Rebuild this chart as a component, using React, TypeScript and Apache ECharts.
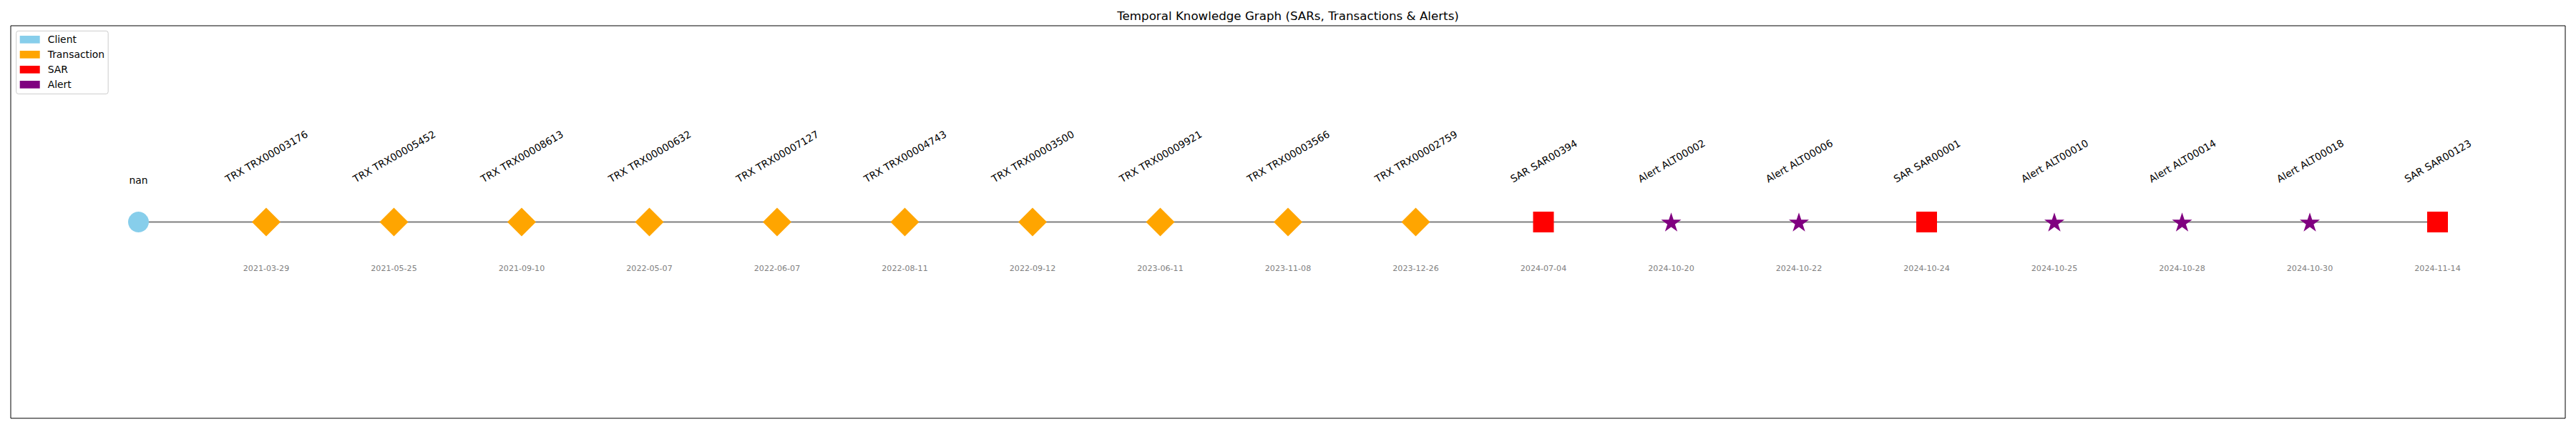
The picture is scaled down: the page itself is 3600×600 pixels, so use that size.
import React, { useEffect, useRef } from "react";
import * as echarts from "echarts";

// ---- data ----
const nodeLabels = [
  "nan",
  "TRX TRX00003176",
  "TRX TRX00005452",
  "TRX TRX00008613",
  "TRX TRX00000632",
  "TRX TRX00007127",
  "TRX TRX00004743",
  "TRX TRX00003500",
  "TRX TRX00009921",
  "TRX TRX00003566",
  "TRX TRX00002759",
  "SAR SAR00394",
  "Alert ALT00002",
  "Alert ALT00006",
  "SAR SAR00001",
  "Alert ALT00010",
  "Alert ALT00014",
  "Alert ALT00018",
  "SAR SAR00123",
];

const nodeDates = [
  "",
  "2021-03-29",
  "2021-05-25",
  "2021-09-10",
  "2022-05-07",
  "2022-06-07",
  "2022-08-11",
  "2022-09-12",
  "2023-06-11",
  "2023-11-08",
  "2023-12-26",
  "2024-07-04",
  "2024-10-20",
  "2024-10-22",
  "2024-10-24",
  "2024-10-25",
  "2024-10-28",
  "2024-10-30",
  "2024-11-14",
];

const nodeTypes = [
  "Client",
  "Transaction",
  "Transaction",
  "Transaction",
  "Transaction",
  "Transaction",
  "Transaction",
  "Transaction",
  "Transaction",
  "Transaction",
  "Transaction",
  "SAR",
  "Alert",
  "Alert",
  "SAR",
  "Alert",
  "Alert",
  "Alert",
  "SAR",
];

const typeNames = ["Client", "Transaction", "SAR", "Alert"];
const typeColors = ["#87CEEB", "#FFA500", "#FF0000", "#800080"];

const TITLE = "Temporal Knowledge Graph (SARs, Transactions & Alerts)";
const FONT = "DejaVu Sans";

function makeStarPath(): string {
  const pts: string[] = [];
  for (let k = 0; k < 10; k++) {
    const r = k % 2 === 0 ? 100 : 38.1966;
    const a = -Math.PI / 2 + (k * Math.PI) / 5;
    pts.push(`${(r * Math.cos(a)).toFixed(3)} ${(r * Math.sin(a)).toFixed(3)}`);
  }
  return "path://M" + pts.join(" L") + " Z";
}

const typeSymbols: Record<string, any> = {
  Client: { symbol: "circle", size: 29 },
  Transaction: { symbol: "diamond", size: 40 },
  SAR: { symbol: "rect", size: 29 },
  Alert: { symbol: makeStarPath(), size: [28, 26.6] },
};

const LABEL_SIZE = 13.9;
const DATE_SIZE = 11.1;

export default function App() {
  const ref = useRef<HTMLDivElement>(null);

  useEffect(() => {
    if (!ref.current) return;
    const chart = echarts.init(ref.current, null, { renderer: "svg" });

    const canvas = document.createElement("canvas");
    const ctx = canvas.getContext("2d")!;
    ctx.font = `${LABEL_SIZE}px "${FONT}"`;
    const widths = nodeLabels.map((t) => ctx.measureText(t).width);

    const points = nodeLabels.map((_, i) => [i, 0]);

    const scatterSeries = typeNames.map((name, ti) => ({
      name,
      type: "scatter",
      z: 3,
      symbol: typeSymbols[name].symbol,
      symbolSize: typeSymbols[name].size,
      itemStyle: { color: typeColors[ti], opacity: 1 },
      emphasis: { disabled: true },
      data: nodeTypes
        .map((t, i) => (t === name ? [i, 0] : null))
        .filter((d) => d !== null),
    }));

    const option: any = {
      animation: false,
      backgroundColor: "#ffffff",
      title: {
        text: TITLE,
        left: "center",
        top: 13.5,
        padding: 0,
        textStyle: {
          fontFamily: FONT,
          fontSize: 16.7,
          fontWeight: "normal",
          color: "#000000",
        },
      },
      legend: {
        data: typeNames,
        orient: "vertical",
        left: 22.7,
        top: 43.3,
        icon: "rect",
        itemWidth: 28,
        itemHeight: 10.7,
        itemGap: 7,
        padding: [5, 5, 6, 5],
        borderColor: "#cccccc",
        borderWidth: 1,
        borderRadius: 3,
        backgroundColor: "#ffffff",
        selectedMode: false,
        textStyle: {
          fontFamily: FONT,
          fontSize: LABEL_SIZE,
          color: "#000000",
          padding: [0, 0, 0, 6],
        },
      },
      grid: {
        left: 15,
        right: 15,
        top: 36,
        bottom: 15,
        show: true,
        borderColor: "#000000",
        borderWidth: 1,
        backgroundColor: "transparent",
      },
      xAxis: {
        type: "value",
        min: -1,
        max: 19,
        show: false,
      },
      yAxis: {
        type: "value",
        min: -1,
        max: 1,
        show: false,
      },
      series: [
        {
          name: "edges",
          type: "line",
          z: 1,
          symbol: "none",
          silent: true,
          lineStyle: { color: "#808080", width: 2 },
          data: points,
        },
        ...scatterSeries,
        {
          name: "labels",
          type: "custom",
          z: 5,
          silent: true,
          data: points,
          renderItem: (params: any, api: any) => {
            const i = params.dataIndex;
            const p = api.coord([api.value(0), api.value(1)]);
            const children: any[] = [];
            const text = nodeLabels[i];
            if (nodeTypes[i] === "Client") {
              children.push({
                type: "text",
                x: p[0],
                y: p[1] - 51.5,
                style: {
                  text,
                  fontFamily: FONT,
                  fontSize: LABEL_SIZE,
                  fill: "#000000",
                  align: "center",
                  verticalAlign: "bottom",
                },
              });
            } else {
              const L = widths[i];
              const h = 16;
              const cx = p[0] - (0.866 * L - 0.5 * h) / 2;
              children.push({
                type: "text",
                x: cx,
                y: p[1] - 53,
                rotation: Math.PI / 6,
                style: {
                  text,
                  fontFamily: FONT,
                  fontSize: LABEL_SIZE,
                  fill: "#000000",
                  align: "left",
                  verticalAlign: "bottom",
                },
              });
            }
            if (nodeDates[i]) {
              children.push({
                type: "text",
                x: p[0],
                y: p[1] + 64.5,
                style: {
                  text: nodeDates[i],
                  fontFamily: FONT,
                  fontSize: DATE_SIZE,
                  fill: "#808080",
                  align: "center",
                  verticalAlign: "middle",
                },
              });
            }
            return { type: "group", children };
          },
        },
      ],
    };

    chart.setOption(option);
    return () => {
      chart.dispose();
    };
  }, []);

  return (
    <div
      ref={ref}
      style={{
        position: "fixed",
        left: 0,
        top: 0,
        width: 3600,
        height: 600,
        background: "#ffffff",
      }}
    />
  );
}
